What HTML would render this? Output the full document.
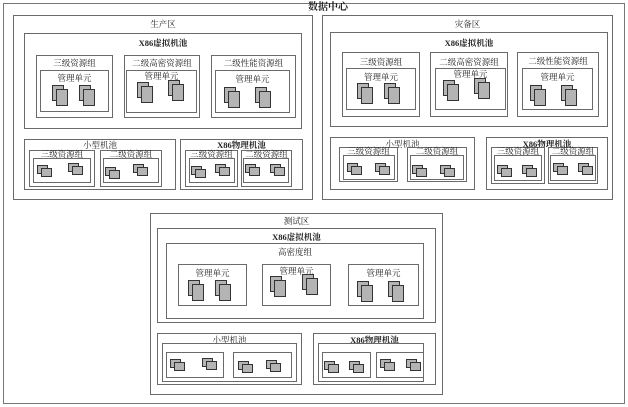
<!DOCTYPE html>
<html><head><meta charset="utf-8"><style>
body{margin:0;width:628px;height:407px;background:#fff;position:relative;overflow:hidden;font-family:"Liberation Serif","Noto Serif CJK SC","Noto Sans CJK SC",serif;}
.b{position:absolute;border:1px solid #6a6a6a;box-sizing:border-box;}
.l{position:absolute;font-size:8.5px;color:#222;text-align:center;white-space:nowrap;line-height:10px;}
.bd{font-weight:bold;}
.s{position:absolute;width:16px;height:21px;}
.s i,.t i{position:absolute;border:1px solid #333;background:#b4b4b4;box-sizing:border-box;}
.s i:first-child{left:0;top:0;width:12px;height:16px;}
.s i:last-child{left:4px;top:4px;width:12px;height:17px;}
.t{position:absolute;width:15px;height:12px;}
.t i:first-child{left:0;top:0;width:11px;height:9px;}
.t i:last-child{left:4px;top:3px;width:11px;height:9px;}
</style></head><body>
<div class="b" style="left:3px;top:3px;width:622px;height:401px;border-color:#777"></div>
<div class="l bd" style="left:278px;top:3px;width:100px;font-size:10px">数据中心</div>

<!-- 生产区 -->
<div class="b" style="left:13px;top:15px;width:300px;height:185px"></div>
<div class="l" style="left:13px;top:19px;width:300px">生产区</div>
<div class="b" style="left:24px;top:33px;width:278px;height:96px"></div>
<div class="l bd" style="left:24px;top:38px;width:278px">X86虚拟机池</div>
<div class="b" style="left:36px;top:55px;width:77px;height:63px"></div>
<div class="l" style="left:36px;top:58px;width:77px">三级资源组</div>
<div class="b" style="left:40px;top:70px;width:69px;height:42px"></div>
<div class="l" style="left:40px;top:73px;width:69px">管理单元</div>
<div class="s" style="left:52px;top:85px"><i></i><i></i></div><div class="s" style="left:79px;top:85px"><i></i><i></i></div>
<div class="b" style="left:124px;top:55px;width:76px;height:63px"></div>
<div class="l" style="left:124px;top:58px;width:76px">二级高密资源组</div>
<div class="b" style="left:126px;top:70px;width:71px;height:43px"></div>
<div class="l" style="left:126px;top:71px;width:71px">管理单元</div>
<div class="s" style="left:137px;top:82px"><i></i><i></i></div><div class="s" style="left:168px;top:80px"><i></i><i></i></div>
<div class="b" style="left:211px;top:55px;width:85px;height:63px"></div>
<div class="l" style="left:211px;top:58px;width:85px">二级性能资源组</div>
<div class="b" style="left:215px;top:70px;width:75px;height:43px"></div>
<div class="l" style="left:215px;top:74px;width:75px">管理单元</div>
<div class="s" style="left:224px;top:87px"><i></i><i></i></div><div class="s" style="left:255px;top:87px"><i></i><i></i></div>

<div class="b" style="left:24px;top:139px;width:152px;height:51px"></div>
<div class="l" style="left:24px;top:140px;width:152px">小型机池</div>
<div class="b" style="left:29px;top:150px;width:66px;height:37px"></div>
<div class="l" style="left:29px;top:149px;width:66px">三级资源组</div>
<div class="b" style="left:33px;top:158px;width:58px;height:25px"></div>
<div class="t" style="left:37px;top:165px"><i></i><i></i></div><div class="t" style="left:68px;top:163px"><i></i><i></i></div>
<div class="b" style="left:100px;top:150px;width:62px;height:37px"></div>
<div class="l" style="left:100px;top:149px;width:62px">二级资源组</div>
<div class="b" style="left:103px;top:158px;width:56px;height:25px"></div>
<div class="t" style="left:105px;top:167px"><i></i><i></i></div><div class="t" style="left:133px;top:164px"><i></i><i></i></div>

<div class="b" style="left:180px;top:139px;width:123px;height:51px"></div>
<div class="l bd" style="left:180px;top:140px;width:123px">X86物理机池</div>
<div class="b" style="left:185px;top:150px;width:53px;height:37px"></div>
<div class="l" style="left:185px;top:149px;width:53px">三级资源组</div>
<div class="b" style="left:189px;top:158px;width:46px;height:25px"></div>
<div class="t" style="left:191px;top:166px"><i></i><i></i></div><div class="t" style="left:215px;top:164px"><i></i><i></i></div>
<div class="b" style="left:241px;top:150px;width:51px;height:37px"></div>
<div class="l" style="left:241px;top:149px;width:51px">二级资源组</div>
<div class="b" style="left:243px;top:158px;width:46px;height:25px"></div>
<div class="t" style="left:245px;top:164px"><i></i><i></i></div><div class="t" style="left:270px;top:164px"><i></i><i></i></div>

<!-- 灾备区 -->
<div class="b" style="left:322px;top:15px;width:291px;height:185px"></div>
<div class="l" style="left:322px;top:19px;width:291px">灾备区</div>
<div class="b" style="left:330px;top:32px;width:278px;height:95px"></div>
<div class="l bd" style="left:330px;top:38px;width:278px">X86虚拟机池</div>
<div class="b" style="left:342px;top:52px;width:78px;height:65px"></div>
<div class="l" style="left:342px;top:57px;width:78px">三级资源组</div>
<div class="b" style="left:346px;top:68px;width:70px;height:42px"></div>
<div class="l" style="left:346px;top:72px;width:70px">管理单元</div>
<div class="s" style="left:357px;top:83px"><i></i><i></i></div><div class="s" style="left:384px;top:83px"><i></i><i></i></div>
<div class="b" style="left:430px;top:52px;width:78px;height:65px"></div>
<div class="l" style="left:430px;top:57px;width:78px">二级高密资源组</div>
<div class="b" style="left:435px;top:68px;width:71px;height:42px"></div>
<div class="l" style="left:435px;top:69px;width:71px">管理单元</div>
<div class="s" style="left:443px;top:80px"><i></i><i></i></div><div class="s" style="left:474px;top:78px"><i></i><i></i></div>
<div class="b" style="left:517px;top:52px;width:82px;height:65px"></div>
<div class="l" style="left:517px;top:56px;width:82px">二级性能资源组</div>
<div class="b" style="left:522px;top:68px;width:71px;height:42px"></div>
<div class="l" style="left:522px;top:72px;width:71px">管理单元</div>
<div class="s" style="left:530px;top:85px"><i></i><i></i></div><div class="s" style="left:561px;top:85px"><i></i><i></i></div>

<div class="b" style="left:330px;top:137px;width:145px;height:53px"></div>
<div class="l" style="left:330px;top:139px;width:145px">小型机池</div>
<div class="b" style="left:339px;top:147px;width:59px;height:35px"></div>
<div class="l" style="left:339px;top:146px;width:59px">三级资源组</div>
<div class="b" style="left:343px;top:155px;width:52px;height:25px"></div>
<div class="t" style="left:347px;top:163px"><i></i><i></i></div><div class="t" style="left:375px;top:163px"><i></i><i></i></div>
<div class="b" style="left:407px;top:147px;width:60px;height:35px"></div>
<div class="l" style="left:407px;top:146px;width:60px">二级资源组</div>
<div class="b" style="left:410px;top:155px;width:54px;height:25px"></div>
<div class="t" style="left:412px;top:165px"><i></i><i></i></div><div class="t" style="left:440px;top:165px"><i></i><i></i></div>

<div class="b" style="left:486px;top:137px;width:122px;height:53px"></div>
<div class="l bd" style="left:486px;top:139px;width:122px">X86物理机池</div>
<div class="b" style="left:491px;top:147px;width:54px;height:37px"></div>
<div class="l" style="left:491px;top:146px;width:54px">三级资源组</div>
<div class="b" style="left:494px;top:155px;width:48px;height:26px"></div>
<div class="t" style="left:497px;top:165px"><i></i><i></i></div><div class="t" style="left:522px;top:165px"><i></i><i></i></div>
<div class="b" style="left:548px;top:147px;width:50px;height:37px"></div>
<div class="l" style="left:548px;top:146px;width:50px">二级资源组</div>
<div class="b" style="left:550px;top:155px;width:46px;height:26px"></div>
<div class="t" style="left:553px;top:163px"><i></i><i></i></div><div class="t" style="left:578px;top:163px"><i></i><i></i></div>

<!-- 测试区 -->
<div class="b" style="left:150px;top:213px;width:293px;height:182px"></div>
<div class="l" style="left:150px;top:216px;width:293px">测试区</div>
<div class="b" style="left:157px;top:228px;width:279px;height:95px"></div>
<div class="l bd" style="left:157px;top:232px;width:279px">X86虚拟机池</div>
<div class="b" style="left:166px;top:243px;width:258px;height:76px"></div>
<div class="l" style="left:166px;top:247px;width:258px">高密度组</div>
<div class="b" style="left:178px;top:264px;width:69px;height:42px"></div>
<div class="l" style="left:178px;top:268px;width:69px">管理单元</div>
<div class="s" style="left:188px;top:280px"><i></i><i></i></div><div class="s" style="left:215px;top:280px"><i></i><i></i></div>
<div class="b" style="left:262px;top:264px;width:69px;height:42px"></div>
<div class="l" style="left:262px;top:266px;width:69px">管理单元</div>
<div class="s" style="left:270px;top:276px"><i></i><i></i></div><div class="s" style="left:302px;top:274px"><i></i><i></i></div>
<div class="b" style="left:348px;top:264px;width:71px;height:42px"></div>
<div class="l" style="left:348px;top:268px;width:71px">管理单元</div>
<div class="s" style="left:357px;top:281px"><i></i><i></i></div><div class="s" style="left:388px;top:281px"><i></i><i></i></div>

<div class="b" style="left:157px;top:333px;width:145px;height:52px"></div>
<div class="l" style="left:157px;top:335px;width:145px">小型机池</div>
<div class="b" style="left:162px;top:343px;width:135px;height:39px"></div>
<div class="b" style="left:166px;top:352px;width:58px;height:26px"></div>
<div class="t" style="left:170px;top:359px"><i></i><i></i></div><div class="t" style="left:202px;top:358px"><i></i><i></i></div>
<div class="b" style="left:233px;top:352px;width:59px;height:26px"></div>
<div class="t" style="left:238px;top:361px"><i></i><i></i></div><div class="t" style="left:266px;top:360px"><i></i><i></i></div>

<div class="b" style="left:313px;top:333px;width:123px;height:52px"></div>
<div class="l bd" style="left:313px;top:335px;width:123px">X86物理机池</div>
<div class="b" style="left:318px;top:343px;width:106px;height:39px"></div>
<div class="b" style="left:322px;top:352px;width:49px;height:26px"></div>
<div class="t" style="left:324px;top:361px"><i></i><i></i></div><div class="t" style="left:349px;top:361px"><i></i><i></i></div>
<div class="b" style="left:376px;top:352px;width:48px;height:26px"></div>
<div class="t" style="left:380px;top:359px"><i></i><i></i></div><div class="t" style="left:406px;top:359px"><i></i><i></i></div>
</body></html>
